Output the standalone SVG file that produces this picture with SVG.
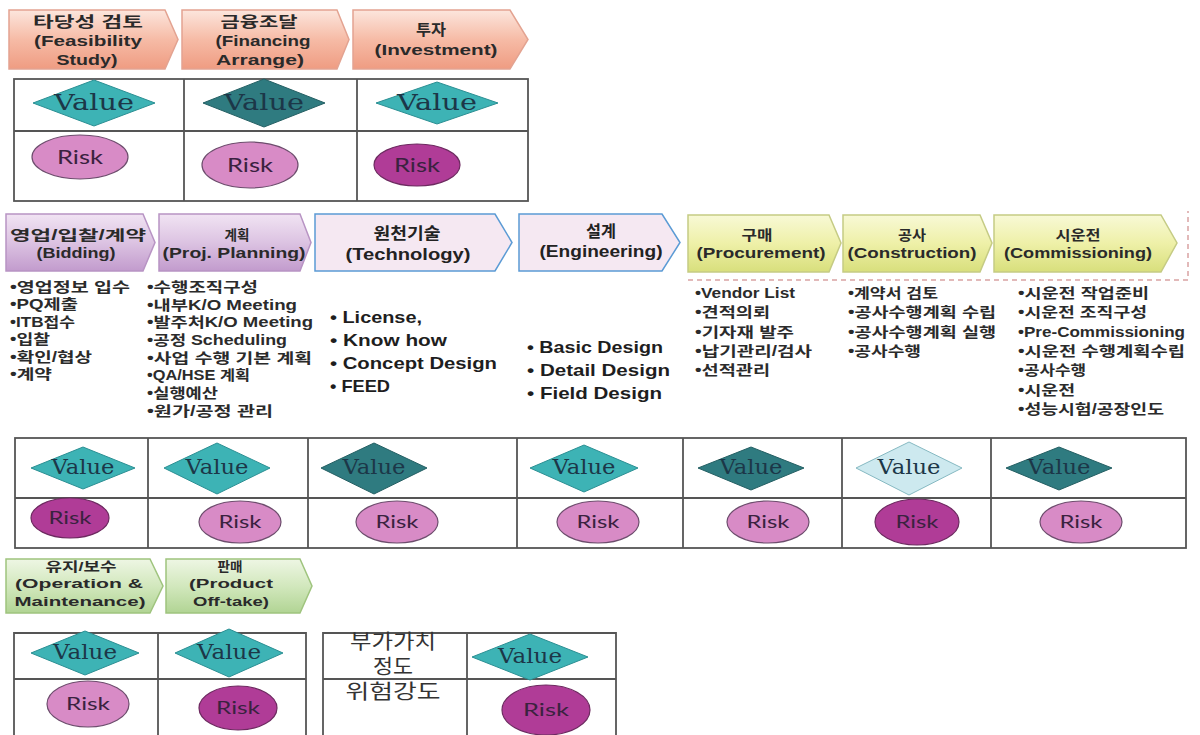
<svg xmlns="http://www.w3.org/2000/svg" width="1200" height="735" viewBox="0 0 1200 735">
<style>
.hd{font-family:"Liberation Sans","Noto Sans CJK KR",sans-serif;font-weight:700;fill:#2a2a2a;text-anchor:middle}
.hd2{font-family:"Liberation Sans","Noto Sans CJK KR",sans-serif;font-weight:700;fill:#222;text-anchor:middle}
.li{font-family:"Liberation Sans","Noto Sans CJK KR",sans-serif;font-weight:700;fill:#2b2b2b;font-size:14px}
.li2{font-family:"Liberation Sans","Noto Sans CJK KR",sans-serif;font-weight:700;fill:#1e1e1e;font-size:17px}
.val{font-family:"DejaVu Serif","Liberation Serif",serif;fill:#1c3748;text-anchor:middle}
.rsk{font-family:"Lato","Open Sans",sans-serif;fill:#3a2240;text-anchor:middle}
.tb{fill:none;stroke:#555;stroke-width:1.8}
.dl{fill:#3db3b5;stroke:#2b8f93;stroke-width:1}
.dd{fill:#2f7b80;stroke:#245f63;stroke-width:1}
.dp{fill:#cde9ef;stroke:#86b9c2;stroke-width:1}
.el{fill:#d88bc6;stroke:#6d4d6d;stroke-width:1.2}
.ed{fill:#b03c97;stroke:#6d2a60;stroke-width:1.2}
.kr{font-family:"Liberation Sans","Noto Sans CJK KR",sans-serif;fill:#333;text-anchor:middle;font-size:20px}
</style>
<defs>
<linearGradient id="gS" x1="0" y1="0" x2="0" y2="1"><stop offset="0" stop-color="#fce6dd"/><stop offset="0.5" stop-color="#f6bba6"/><stop offset="1" stop-color="#ef9c82"/></linearGradient>
<linearGradient id="gP" x1="0" y1="0" x2="0" y2="1"><stop offset="0" stop-color="#f1e4f3"/><stop offset="0.5" stop-color="#dcc3e2"/><stop offset="1" stop-color="#c29bcd"/></linearGradient>
<linearGradient id="gY" x1="0" y1="0" x2="0" y2="1"><stop offset="0" stop-color="#f8f9d6"/><stop offset="0.5" stop-color="#eef0a8"/><stop offset="1" stop-color="#d8df7c"/></linearGradient>
<linearGradient id="gG" x1="0" y1="0" x2="0" y2="1"><stop offset="0" stop-color="#eef6e4"/><stop offset="0.5" stop-color="#d2e8bd"/><stop offset="1" stop-color="#b1d494"/></linearGradient>
</defs>
<rect width="1200" height="735" fill="#ffffff"/>

<g id="feasibility">
<path d="M9,10 H165 L178,39.5 L165,69 H9 Z" fill="url(#gS)" stroke="#e3a391" stroke-width="1.5"/>
<text class="hd" x="88" y="27" font-size="15" textLength="110" lengthAdjust="spacingAndGlyphs">타당성 검토</text>
<text class="hd" x="88" y="46" font-size="15" textLength="108" lengthAdjust="spacingAndGlyphs">(Feasibility</text>
<text class="hd" x="87" y="65" font-size="15" textLength="61" lengthAdjust="spacingAndGlyphs">Study)</text>
</g>
<g id="financing">
<path d="M182,10 H337 L349,39.5 L337,69 H182 Z" fill="url(#gS)" stroke="#e3a391" stroke-width="1.5"/>
<text class="hd" x="259" y="27" font-size="15" textLength="77" lengthAdjust="spacingAndGlyphs">금융조달</text>
<text class="hd" x="263" y="46" font-size="15" textLength="95" lengthAdjust="spacingAndGlyphs">(Financing</text>
<text class="hd" x="260" y="65" font-size="15" textLength="88" lengthAdjust="spacingAndGlyphs">Arrange)</text>
</g>
<g id="investment">
<path d="M353,10 H510 L528,39.5 L510,69 H353 Z" fill="url(#gS)" stroke="#e3a391" stroke-width="1.5"/>
<text class="hd" x="431" y="35" font-size="15" textLength="30" lengthAdjust="spacingAndGlyphs">투자</text>
<text class="hd" x="436" y="55" font-size="15" textLength="123" lengthAdjust="spacingAndGlyphs">(Investment)</text>
</g>

<g id="table-top">
<rect class="tb" x="14" y="79" width="514" height="122"/>
<line class="tb" x1="14" y1="131" x2="528" y2="131"/>
<line class="tb" x1="184" y1="79" x2="184" y2="201"/>
<line class="tb" x1="357" y1="79" x2="357" y2="201"/>
<polygon class="dl" points="33,103 94,80 155,103 94,126"/>
<text class="val" x="94" y="110" font-size="22" textLength="80" lengthAdjust="spacingAndGlyphs">Value</text>
<polygon class="dd" points="203,103 264,79 325,103 264,127"/>
<text class="val" x="264" y="110" font-size="22" textLength="80" lengthAdjust="spacingAndGlyphs">Value</text>
<polygon class="dl" points="376,103 437,82 498,103 437,124"/>
<text class="val" x="437" y="110" font-size="22" textLength="80" lengthAdjust="spacingAndGlyphs">Value</text>
<ellipse class="el" cx="80" cy="157" rx="48" ry="22"/>
<text class="rsk" x="80" y="164" font-size="19" textLength="46" lengthAdjust="spacingAndGlyphs">Risk</text>
<ellipse class="el" cx="250" cy="165" rx="48" ry="23"/>
<text class="rsk" x="250" y="172" font-size="19" textLength="46" lengthAdjust="spacingAndGlyphs">Risk</text>
<ellipse class="ed" cx="417" cy="165" rx="43" ry="21"/>
<text class="rsk" x="417" y="172" font-size="19" textLength="46" lengthAdjust="spacingAndGlyphs">Risk</text>
</g>

<g id="bidding">
<path d="M6,214 H143 L155,242.5 L143,271 H6 Z" fill="url(#gP)" stroke="#b894c4" stroke-width="1.5"/>
<text class="hd" x="78" y="240" font-size="14" textLength="136" lengthAdjust="spacingAndGlyphs">영업/입찰/계약</text>
<text class="hd" x="76" y="258" font-size="14" textLength="79" lengthAdjust="spacingAndGlyphs">(Bidding)</text>
</g>
<g id="planning">
<path d="M159,214 H300 L311,242.5 L300,271 H159 Z" fill="url(#gP)" stroke="#b894c4" stroke-width="1.5"/>
<text class="hd" x="237" y="240" font-size="14" textLength="25" lengthAdjust="spacingAndGlyphs">계획</text>
<text class="hd" x="234" y="258" font-size="14" textLength="143" lengthAdjust="spacingAndGlyphs">(Proj. Planning)</text>
</g>
<g id="technology">
<path d="M315,214 H495 L512,242.5 L495,271 H315 Z" fill="#f5e8f2" stroke="#5b9bd5" stroke-width="1.5"/>
<text class="hd2" x="407" y="239" font-size="16" textLength="67" lengthAdjust="spacingAndGlyphs">원천기술</text>
<text class="hd2" x="408" y="260" font-size="16" textLength="125" lengthAdjust="spacingAndGlyphs">(Technology)</text>
</g>
<g id="engineering">
<path d="M519,214 H662 L680,242.5 L662,271 H519 Z" fill="#f5e8f2" stroke="#5b9bd5" stroke-width="1.5"/>
<text class="hd2" x="601" y="237" font-size="16" textLength="30" lengthAdjust="spacingAndGlyphs">설계</text>
<text class="hd2" x="601" y="257" font-size="16" textLength="123" lengthAdjust="spacingAndGlyphs">(Engineering)</text>
</g>
<g id="procurement">
<path d="M688,215 H829 L841,243 L829,272 H688 Z" fill="url(#gY)" stroke="#c5cb84" stroke-width="1.5"/>
<text class="hd" x="757" y="240" font-size="14" textLength="31" lengthAdjust="spacingAndGlyphs">구매</text>
<text class="hd" x="761" y="258" font-size="14" textLength="129" lengthAdjust="spacingAndGlyphs">(Procurement)</text>
</g>
<g id="construction">
<path d="M843,215 H980 L992,243 L980,272 H843 Z" fill="url(#gY)" stroke="#c5cb84" stroke-width="1.5"/>
<text class="hd" x="912" y="240" font-size="14" textLength="28" lengthAdjust="spacingAndGlyphs">공사</text>
<text class="hd" x="912" y="258" font-size="14" textLength="129" lengthAdjust="spacingAndGlyphs">(Construction)</text>
</g>
<g id="commissioning">
<path d="M994,215 H1161 L1177,243 L1161,272 H994 Z" fill="url(#gY)" stroke="#c5cb84" stroke-width="1.5"/>
<text class="hd" x="1078" y="240" font-size="14" textLength="45" lengthAdjust="spacingAndGlyphs">시운전</text>
<text class="hd" x="1078" y="258" font-size="14" textLength="148" lengthAdjust="spacingAndGlyphs">(Commissioning)</text>
</g>
<g id="dashed-frame">
<path d="M688,280 H1188 V211" fill="none" stroke="#d9a3a3" stroke-width="1.5" stroke-dasharray="5,4"/>
</g>

<g id="list-bidding">
<text class="li" x="10" y="292" textLength="120" lengthAdjust="spacingAndGlyphs">•영업정보 입수</text>
<text class="li" x="10" y="309" textLength="68" lengthAdjust="spacingAndGlyphs">•PQ제출</text>
<text class="li" x="10" y="327" textLength="65" lengthAdjust="spacingAndGlyphs">•ITB접수</text>
<text class="li" x="10" y="344" textLength="40" lengthAdjust="spacingAndGlyphs">•입찰</text>
<text class="li" x="10" y="362" textLength="82" lengthAdjust="spacingAndGlyphs">•확인/협상</text>
<text class="li" x="10" y="379" textLength="42" lengthAdjust="spacingAndGlyphs">•계약</text>
</g>
<g id="list-planning">
<text class="li" x="147" y="292" textLength="111" lengthAdjust="spacingAndGlyphs">•수행조직구성</text>
<text class="li" x="147" y="310" textLength="150" lengthAdjust="spacingAndGlyphs">•내부K/O Meeting</text>
<text class="li" x="147" y="327" textLength="166" lengthAdjust="spacingAndGlyphs">•발주처K/O Meeting</text>
<text class="li" x="147" y="345" textLength="140" lengthAdjust="spacingAndGlyphs">•공정 Scheduling</text>
<text class="li" x="147" y="363" textLength="165" lengthAdjust="spacingAndGlyphs">•사업 수행 기본 계획</text>
<text class="li" x="147" y="380" textLength="103" lengthAdjust="spacingAndGlyphs">•QA/HSE 계획</text>
<text class="li" x="147" y="398" textLength="71" lengthAdjust="spacingAndGlyphs">•실행예산</text>
<text class="li" x="147" y="416" textLength="126" lengthAdjust="spacingAndGlyphs">•원가/공정 관리</text>
</g>
<g id="list-technology">
<text class="li2" x="330" y="323" textLength="92" lengthAdjust="spacingAndGlyphs">• License,</text>
<text class="li2" x="330" y="346" textLength="117" lengthAdjust="spacingAndGlyphs">• Know how</text>
<text class="li2" x="330" y="369" textLength="167" lengthAdjust="spacingAndGlyphs">• Concept Design</text>
<text class="li2" x="330" y="392" textLength="60" lengthAdjust="spacingAndGlyphs">• FEED</text>
</g>
<g id="list-engineering">
<text class="li2" x="527" y="353" textLength="136" lengthAdjust="spacingAndGlyphs">• Basic Design</text>
<text class="li2" x="527" y="376" textLength="143" lengthAdjust="spacingAndGlyphs">• Detail Design</text>
<text class="li2" x="527" y="399" textLength="135" lengthAdjust="spacingAndGlyphs">• Field Design</text>
</g>
<g id="list-procurement">
<text class="li" x="695" y="298" textLength="100" lengthAdjust="spacingAndGlyphs">•Vendor List</text>
<text class="li" x="695" y="317" textLength="75" lengthAdjust="spacingAndGlyphs">•견적의뢰</text>
<text class="li" x="695" y="337" textLength="99" lengthAdjust="spacingAndGlyphs">•기자재 발주</text>
<text class="li" x="695" y="356" textLength="117" lengthAdjust="spacingAndGlyphs">•납기관리/검사</text>
<text class="li" x="695" y="375" textLength="75" lengthAdjust="spacingAndGlyphs">•선적관리</text>
</g>
<g id="list-construction">
<text class="li" x="848" y="298" textLength="90" lengthAdjust="spacingAndGlyphs">•계약서 검토</text>
<text class="li" x="848" y="317" textLength="148" lengthAdjust="spacingAndGlyphs">•공사수행계획 수립</text>
<text class="li" x="848" y="337" textLength="148" lengthAdjust="spacingAndGlyphs">•공사수행계획 실행</text>
<text class="li" x="848" y="356" textLength="73" lengthAdjust="spacingAndGlyphs">•공사수행</text>
</g>
<g id="list-commissioning">
<text class="li" x="1018" y="298" textLength="131" lengthAdjust="spacingAndGlyphs">•시운전 작업준비</text>
<text class="li" x="1018" y="317" textLength="129" lengthAdjust="spacingAndGlyphs">•시운전 조직구성</text>
<text class="li" x="1018" y="337" textLength="167" lengthAdjust="spacingAndGlyphs">•Pre-Commissioning</text>
<text class="li" x="1018" y="356" textLength="167" lengthAdjust="spacingAndGlyphs">•시운전 수행계획수립</text>
<text class="li" x="1018" y="375" textLength="68" lengthAdjust="spacingAndGlyphs">•공사수행</text>
<text class="li" x="1018" y="395" textLength="57" lengthAdjust="spacingAndGlyphs">•시운전</text>
<text class="li" x="1018" y="414" textLength="146" lengthAdjust="spacingAndGlyphs">•성능시험/공장인도</text>
</g>

<g id="table-middle">
<rect class="tb" x="15" y="438" width="1171" height="110"/>
<line class="tb" x1="15" y1="498" x2="1186" y2="498"/>
<line class="tb" x1="148" y1="438" x2="148" y2="548"/>
<line class="tb" x1="308" y1="438" x2="308" y2="548"/>
<line class="tb" x1="517" y1="438" x2="517" y2="548"/>
<line class="tb" x1="683" y1="438" x2="683" y2="548"/>
<line class="tb" x1="842" y1="438" x2="842" y2="548"/>
<line class="tb" x1="991" y1="438" x2="991" y2="548"/>
<polygon class="dl" points="31,468 83,447 135,468 83,489"/>
<text class="val" x="83" y="474" font-size="20" textLength="63" lengthAdjust="spacingAndGlyphs">Value</text>
<polygon class="dl" points="164,468 217,443 270,468 217,494"/>
<text class="val" x="217" y="474" font-size="20" textLength="63" lengthAdjust="spacingAndGlyphs">Value</text>
<polygon class="dd" points="321,468 374,443 427,468 374,494"/>
<text class="val" x="374" y="474" font-size="20" textLength="63" lengthAdjust="spacingAndGlyphs">Value</text>
<polygon class="dl" points="530,468 584,445 638,468 584,492"/>
<text class="val" x="584" y="474" font-size="20" textLength="63" lengthAdjust="spacingAndGlyphs">Value</text>
<polygon class="dd" points="698,468 751,447 804,468 751,490"/>
<text class="val" x="751" y="474" font-size="20" textLength="63" lengthAdjust="spacingAndGlyphs">Value</text>
<polygon class="dp" points="856,468 909,442 962,468 909,495"/>
<text class="val" x="909" y="474" font-size="20" textLength="63" lengthAdjust="spacingAndGlyphs">Value</text>
<polygon class="dd" points="1006,468 1059,447 1112,468 1059,490"/>
<text class="val" x="1059" y="474" font-size="20" textLength="63" lengthAdjust="spacingAndGlyphs">Value</text>
<ellipse class="ed" cx="70" cy="518" rx="39" ry="20"/>
<text class="rsk" x="70" y="524" font-size="17" textLength="43" lengthAdjust="spacingAndGlyphs">Risk</text>
<ellipse class="el" cx="240" cy="522" rx="41" ry="21"/>
<text class="rsk" x="240" y="528" font-size="17" textLength="43" lengthAdjust="spacingAndGlyphs">Risk</text>
<ellipse class="el" cx="397" cy="522" rx="41" ry="21"/>
<text class="rsk" x="397" y="528" font-size="17" textLength="43" lengthAdjust="spacingAndGlyphs">Risk</text>
<ellipse class="el" cx="598" cy="522" rx="41" ry="21"/>
<text class="rsk" x="598" y="528" font-size="17" textLength="43" lengthAdjust="spacingAndGlyphs">Risk</text>
<ellipse class="el" cx="768" cy="522" rx="41" ry="21"/>
<text class="rsk" x="768" y="528" font-size="17" textLength="43" lengthAdjust="spacingAndGlyphs">Risk</text>
<ellipse class="ed" cx="917" cy="522" rx="42" ry="23"/>
<text class="rsk" x="917" y="528" font-size="17" textLength="43" lengthAdjust="spacingAndGlyphs">Risk</text>
<ellipse class="el" cx="1081" cy="522" rx="41" ry="21"/>
<text class="rsk" x="1081" y="528" font-size="17" textLength="43" lengthAdjust="spacingAndGlyphs">Risk</text>
</g>

<g id="operation">
<path d="M6,559 H150 L163,586 L150,613 H6 Z" fill="url(#gG)" stroke="#9fc47e" stroke-width="1.5"/>
<text class="hd" x="81" y="571" font-size="13" textLength="71" lengthAdjust="spacingAndGlyphs">유지/보수</text>
<text class="hd" x="79" y="588" font-size="13" textLength="128" lengthAdjust="spacingAndGlyphs">(Operation &amp;</text>
<text class="hd" x="80" y="606" font-size="13" textLength="131" lengthAdjust="spacingAndGlyphs">Maintenance)</text>
</g>
<g id="offtake">
<path d="M166,559 H300 L312,586 L300,613 H166 Z" fill="url(#gG)" stroke="#9fc47e" stroke-width="1.5"/>
<text class="hd" x="230" y="571" font-size="13" textLength="25" lengthAdjust="spacingAndGlyphs">판매</text>
<text class="hd" x="231" y="588" font-size="13" textLength="84" lengthAdjust="spacingAndGlyphs">(Product</text>
<text class="hd" x="231" y="606" font-size="13" textLength="76" lengthAdjust="spacingAndGlyphs">Off-take)</text>
</g>

<g id="table-bottom">
<path class="tb" d="M14,736 V633 H306 V736 M158,633 V736 M14,679 H306"/>
<polygon class="dl" points="31,653 85,631 139,653 85,675"/>
<text class="val" x="85" y="659" font-size="20" textLength="64" lengthAdjust="spacingAndGlyphs">Value</text>
<polygon class="dl" points="175,653 229,629 283,653 229,677"/>
<text class="val" x="229" y="659" font-size="20" textLength="64" lengthAdjust="spacingAndGlyphs">Value</text>
<ellipse class="el" cx="88" cy="704" rx="41" ry="23"/>
<text class="rsk" x="88" y="710" font-size="18" textLength="44" lengthAdjust="spacingAndGlyphs">Risk</text>
<ellipse class="ed" cx="238" cy="708" rx="39" ry="22"/>
<text class="rsk" x="238" y="714" font-size="18" textLength="44" lengthAdjust="spacingAndGlyphs">Risk</text>
</g>

<g id="legend">
<path class="tb" d="M323,736 V633 H616 V736 M467,633 V736 M323,679 H616"/>
<text class="kr" x="393" y="649" textLength="86" lengthAdjust="spacingAndGlyphs">부가가치</text>
<text class="kr" x="393" y="674" textLength="40" lengthAdjust="spacingAndGlyphs">정도</text>
<text class="kr" x="393" y="699" textLength="95" lengthAdjust="spacingAndGlyphs">위험강도</text>
<polygon class="dl" points="472,657 530,634 588,657 530,680"/>
<text class="val" x="530" y="663" font-size="20" textLength="64" lengthAdjust="spacingAndGlyphs">Value</text>
<ellipse class="ed" cx="546" cy="710" rx="44" ry="25"/>
<text class="rsk" x="546" y="716" font-size="18" textLength="46" lengthAdjust="spacingAndGlyphs">Risk</text>
</g>
</svg>
